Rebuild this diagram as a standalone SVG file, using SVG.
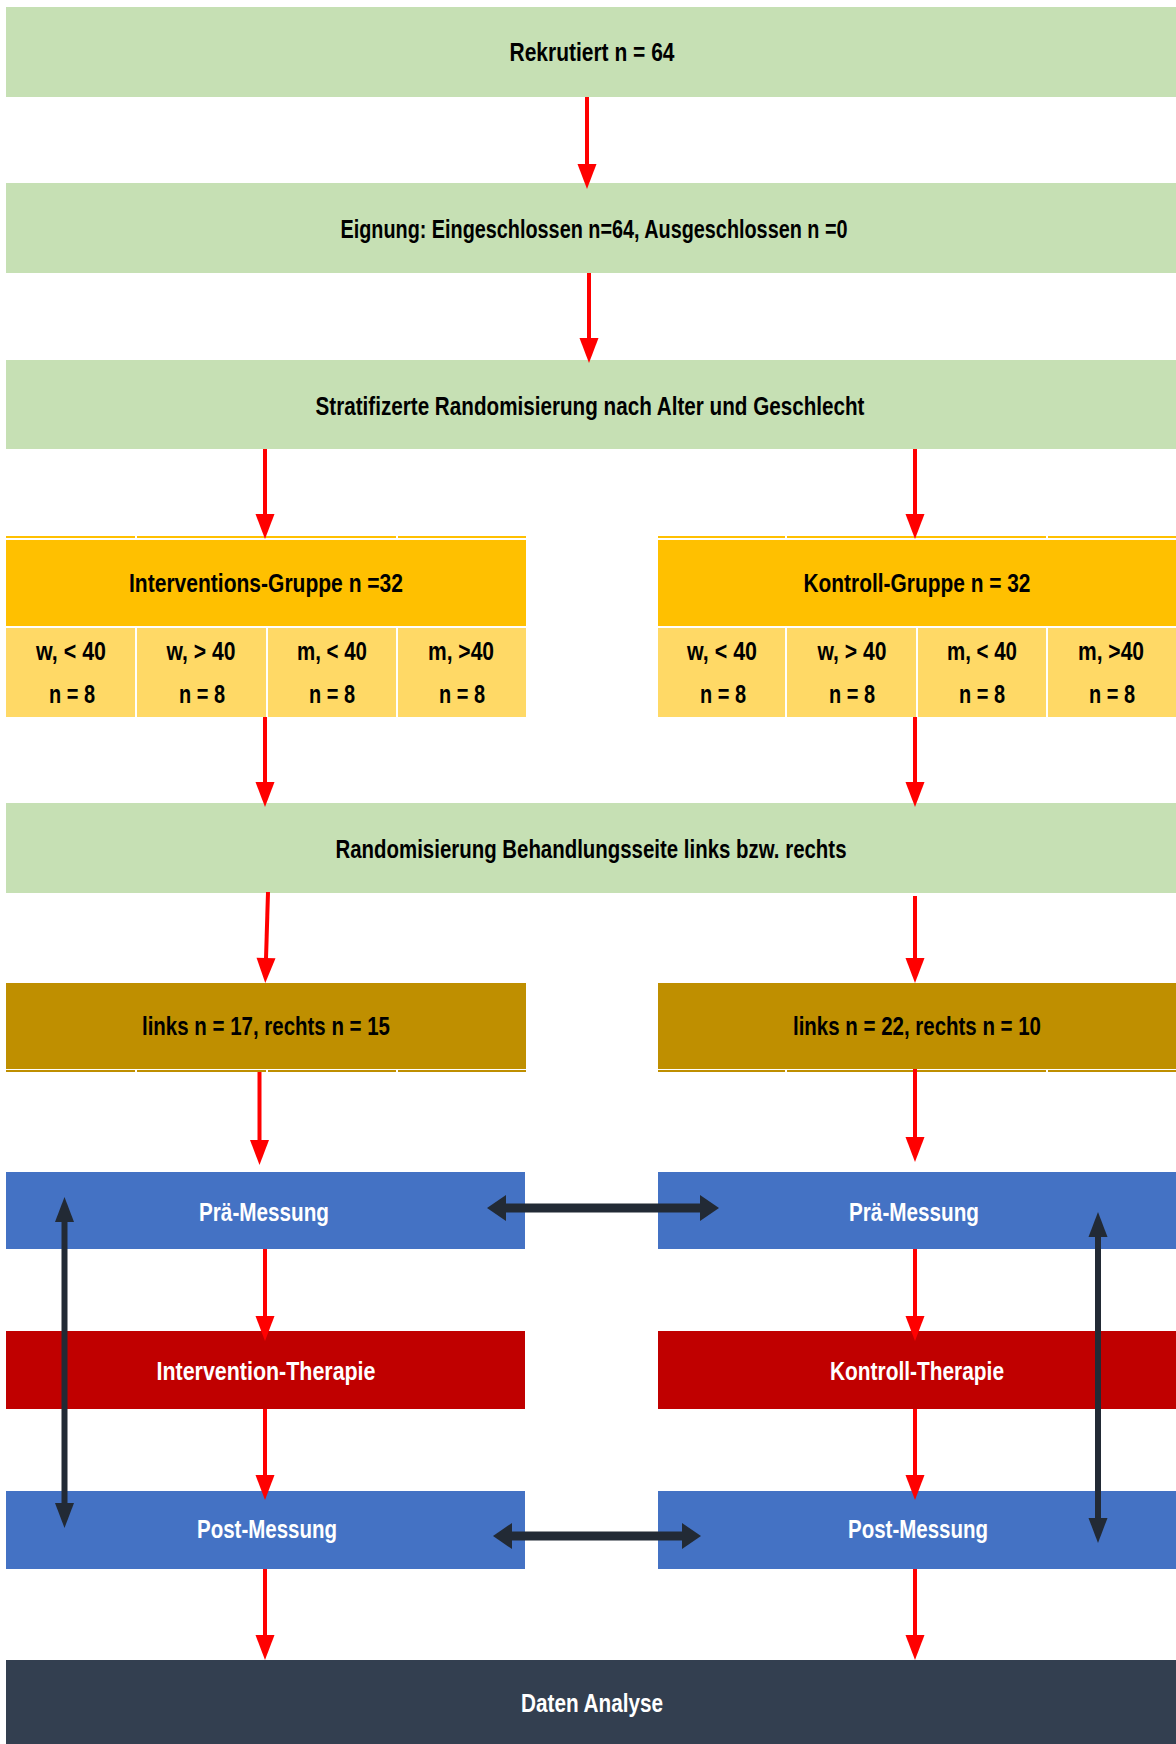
<svg xmlns="http://www.w3.org/2000/svg" width="1176" height="1744" viewBox="0 0 1176 1744">
<style>
.t{font-family:"Liberation Sans Narrow","Liberation Sans",Arial,sans-serif;font-weight:bold;font-size:26px;text-anchor:middle;fill:#000}
.w{fill:#fff}
.green{fill:#C6E0B4}
.orange{fill:#FFC000}
.cell{fill:#FFD966}
.gold{fill:#BF8F00}
.blue{fill:#4472C4}
.red{fill:#C00000}
.dark{fill:#333F50}
.ra{stroke:#FF0000;stroke-width:4;fill:none;marker-end:url(#rh)}
.dv{stroke:#222A35;stroke-width:6;fill:none;marker-start:url(#dvh);marker-end:url(#dvh)}
.dh{stroke:#222A35;stroke-width:9;fill:none;marker-start:url(#dhh);marker-end:url(#dhh)}
.sep{stroke:#fff;stroke-width:2}
</style>
<defs>
<marker id="rh" markerUnits="userSpaceOnUse" markerWidth="26" markerHeight="20" refX="1" refY="9.5" orient="auto" overflow="visible">
<path d="M0,0 L25,9.5 L0,19 Z" fill="#FF0000"/>
</marker>
<marker id="dvh" markerUnits="userSpaceOnUse" markerWidth="26" markerHeight="20" refX="1" refY="9.5" orient="auto-start-reverse" overflow="visible">
<path d="M0,0 L25,9.5 L0,19 Z" fill="#222A35"/>
</marker>
<marker id="dhh" markerUnits="userSpaceOnUse" markerWidth="20" markerHeight="27" refX="1" refY="13" orient="auto-start-reverse" overflow="visible">
<path d="M0,0 L19,13 L0,26 Z" fill="#222A35"/>
</marker>
</defs>
<rect width="1176" height="1744" fill="#fff"/>

<g id="rekrutiert">
<rect class="green" x="6" y="7" width="1170" height="90"/>
<text class="t" x="592" y="61" textLength="165" lengthAdjust="spacingAndGlyphs">Rekrutiert n = 64</text>
</g>
<g id="eignung">
<rect class="green" x="6" y="183" width="1170" height="90"/>
<text class="t" x="594" y="238" textLength="507" lengthAdjust="spacingAndGlyphs">Eignung: Eingeschlossen n=64, Ausgeschlossen n =0</text>
</g>
<g id="stratifizierung">
<rect class="green" x="6" y="360" width="1170" height="89"/>
<text class="t" x="590" y="415" textLength="549" lengthAdjust="spacingAndGlyphs">Stratifizerte Randomisierung nach Alter und Geschlecht</text>
</g>

<g id="interventions-gruppe">
<rect class="orange" x="6" y="536" width="520" height="2"/>
<rect class="orange" x="6" y="540" width="520" height="86"/>
<line class="sep" x1="136" y1="535" x2="136" y2="539"/>
<line class="sep" x1="397" y1="535" x2="397" y2="539"/>
<text class="t" x="266" y="592" textLength="274" lengthAdjust="spacingAndGlyphs">Interventions-Gruppe n =32</text>
<rect class="cell" x="6" y="628" width="129" height="89"/>
<rect class="cell" x="137" y="628" width="129" height="89"/>
<rect class="cell" x="268" y="628" width="128" height="89"/>
<rect class="cell" x="398" y="628" width="128" height="89"/>
<text class="t" x="71" y="660" textLength="70" lengthAdjust="spacingAndGlyphs">w, &lt; 40</text>
<text class="t" x="201" y="660" textLength="69" lengthAdjust="spacingAndGlyphs">w, &gt; 40</text>
<text class="t" x="332" y="660" textLength="70" lengthAdjust="spacingAndGlyphs">m, &lt; 40</text>
<text class="t" x="461" y="660" textLength="66" lengthAdjust="spacingAndGlyphs">m, &gt;40</text>
<text class="t" x="72" y="703" textLength="46" lengthAdjust="spacingAndGlyphs">n = 8</text>
<text class="t" x="202" y="703" textLength="46" lengthAdjust="spacingAndGlyphs">n = 8</text>
<text class="t" x="332" y="703" textLength="46" lengthAdjust="spacingAndGlyphs">n = 8</text>
<text class="t" x="462" y="703" textLength="46" lengthAdjust="spacingAndGlyphs">n = 8</text>
</g>

<g id="kontroll-gruppe">
<rect class="orange" x="658" y="536" width="518" height="2"/>
<rect class="orange" x="658" y="540" width="518" height="86"/>
<line class="sep" x1="786" y1="535" x2="786" y2="539"/>
<line class="sep" x1="1047" y1="535" x2="1047" y2="539"/>
<text class="t" x="917" y="592" textLength="227" lengthAdjust="spacingAndGlyphs">Kontroll-Gruppe n = 32</text>
<rect class="cell" x="658" y="628" width="127" height="89"/>
<rect class="cell" x="787" y="628" width="129" height="89"/>
<rect class="cell" x="918" y="628" width="128" height="89"/>
<rect class="cell" x="1048" y="628" width="128" height="89"/>
<text class="t" x="722" y="660" textLength="70" lengthAdjust="spacingAndGlyphs">w, &lt; 40</text>
<text class="t" x="852" y="660" textLength="69" lengthAdjust="spacingAndGlyphs">w, &gt; 40</text>
<text class="t" x="982" y="660" textLength="70" lengthAdjust="spacingAndGlyphs">m, &lt; 40</text>
<text class="t" x="1111" y="660" textLength="66" lengthAdjust="spacingAndGlyphs">m, &gt;40</text>
<text class="t" x="723" y="703" textLength="46" lengthAdjust="spacingAndGlyphs">n = 8</text>
<text class="t" x="852" y="703" textLength="46" lengthAdjust="spacingAndGlyphs">n = 8</text>
<text class="t" x="982" y="703" textLength="46" lengthAdjust="spacingAndGlyphs">n = 8</text>
<text class="t" x="1112" y="703" textLength="46" lengthAdjust="spacingAndGlyphs">n = 8</text>
</g>

<g id="randomisierung-seite">
<rect class="green" x="6" y="803" width="1170" height="90"/>
<text class="t" x="591" y="858" textLength="511" lengthAdjust="spacingAndGlyphs">Randomisierung Behandlungsseite links bzw. rechts</text>
</g>

<g id="seite-intervention">
<rect class="gold" x="6" y="983" width="520" height="86"/>
<rect class="gold" x="6" y="1070" width="520" height="2"/>
<line class="sep" x1="136" y1="1069" x2="136" y2="1073"/>
<line class="sep" x1="267" y1="1069" x2="267" y2="1073"/>
<line class="sep" x1="397" y1="1069" x2="397" y2="1073"/>
<text class="t" x="266" y="1035" textLength="248" lengthAdjust="spacingAndGlyphs">links n = 17, rechts n = 15</text>
</g>
<g id="seite-kontroll">
<rect class="gold" x="658" y="983" width="518" height="86"/>
<rect class="gold" x="658" y="1070" width="518" height="2"/>
<line class="sep" x1="786" y1="1069" x2="786" y2="1073"/>
<line class="sep" x1="1047" y1="1069" x2="1047" y2="1073"/>
<text class="t" x="917" y="1035" textLength="248" lengthAdjust="spacingAndGlyphs">links n = 22, rechts n = 10</text>
</g>

<g id="prae-intervention">
<rect class="blue" x="6" y="1172" width="519" height="77"/>
<text class="t w" x="264" y="1221" textLength="130" lengthAdjust="spacingAndGlyphs">Prä-Messung</text>
</g>
<g id="prae-kontroll">
<rect class="blue" x="658" y="1172" width="518" height="77"/>
<text class="t w" x="914" y="1221" textLength="130" lengthAdjust="spacingAndGlyphs">Prä-Messung</text>
</g>

<g id="intervention-therapie">
<rect class="red" x="6" y="1331" width="519" height="78"/>
<text class="t w" x="266" y="1380" textLength="219" lengthAdjust="spacingAndGlyphs">Intervention-Therapie</text>
</g>
<g id="kontroll-therapie">
<rect class="red" x="658" y="1331" width="518" height="78"/>
<text class="t w" x="917" y="1380" textLength="174" lengthAdjust="spacingAndGlyphs">Kontroll-Therapie</text>
</g>

<g id="post-intervention">
<rect class="blue" x="6" y="1491" width="519" height="78"/>
<text class="t w" x="267" y="1538" textLength="140" lengthAdjust="spacingAndGlyphs">Post-Messung</text>
</g>
<g id="post-kontroll">
<rect class="blue" x="658" y="1491" width="518" height="78"/>
<text class="t w" x="918" y="1538" textLength="140" lengthAdjust="spacingAndGlyphs">Post-Messung</text>
</g>

<g id="daten-analyse">
<rect class="dark" x="6" y="1660" width="1170" height="84"/>
<text class="t w" x="592" y="1712" textLength="142" lengthAdjust="spacingAndGlyphs">Daten Analyse</text>
</g>

<g id="connectors">
<line class="ra" x1="587" y1="97" x2="587" y2="165"/>
<line class="ra" x1="589" y1="273" x2="589" y2="339"/>
<line class="ra" x1="265" y1="449" x2="265" y2="515"/>
<line class="ra" x1="915" y1="449" x2="915" y2="515"/>
<line class="ra" x1="265" y1="717" x2="265" y2="783"/>
<line class="ra" x1="915" y1="717" x2="915" y2="783"/>
<line class="ra" x1="268" y1="892" x2="266" y2="959"/>
<line class="ra" x1="915" y1="896" x2="915" y2="959"/>
<line class="ra" x1="259.5" y1="1072" x2="259.5" y2="1141"/>
<line class="ra" x1="915" y1="1069" x2="915" y2="1138"/>
<line class="ra" x1="265" y1="1249" x2="265" y2="1317"/>
<line class="ra" x1="915" y1="1249" x2="915" y2="1317"/>
<line class="ra" x1="265" y1="1409" x2="265" y2="1476"/>
<line class="ra" x1="915" y1="1409" x2="915" y2="1476"/>
<line class="ra" x1="265" y1="1569" x2="265" y2="1636"/>
<line class="ra" x1="915" y1="1569" x2="915" y2="1636"/>
<line class="dv" x1="64.5" y1="1221" x2="64.5" y2="1504"/>
<line class="dv" x1="1098" y1="1236" x2="1098" y2="1519"/>
<line class="dh" x1="505" y1="1208" x2="701" y2="1208"/>
<line class="dh" x1="511" y1="1536" x2="683" y2="1536"/>
</g>
</svg>
